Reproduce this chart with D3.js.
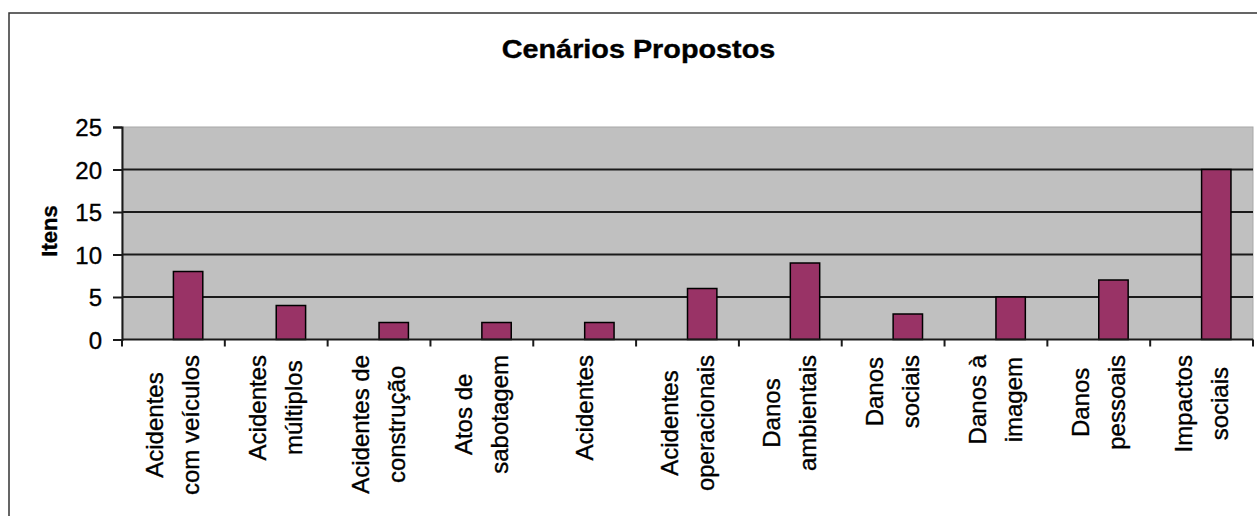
<!DOCTYPE html>
<html>
<head>
<meta charset="utf-8">
<script src="https://cdn.jsdelivr.net/npm/d3@7"></script>
<style>
	body { margin: 0; background: #fff; }
	text { font-family: "Liberation Sans", Arial, sans-serif; fill: #000; stroke: #000; stroke-width: 0.35px; }
</style>
</head>
<body>
<div id="chart"></div>
<script>
// DATA
var categories = [
	["Acidentes", "com veículos"],
	["Acidentes", "múltiplos"],
	["Acidentes de", "construção"],
	["Atos de", "sabotagem"],
	["Acidentes"],
	["Acidentes", "operacionais"],
	["Danos", "ambientais"],
	["Danos", "sociais"],
	["Danos à", "imagem"],
	["Danos", "pessoais"],
	["Impactos", "sociais"]
];
var itens = [8, 4, 2, 2, 2, 6, 9, 3, 5, 7, 20];
var yTicks = [0, 5, 10, 15, 20, 25];
var chartTitle = "Cenários Propostos";
var yTitle = "Itens";

var W = 1257, H = 516;

function drawChart(){
	var svg = d3.select("#chart").append("svg")
		.attr("width", W)
		.attr("height", H);

	// chart frame (right and bottom edges fall outside the picture)
	svg.append("rect")
		.attr("x", 9).attr("y", 13)
		.attr("width", W + 20).attr("height", H + 20)
		.attr("fill", "#fff")
		.attr("stroke", "#333")
		.attr("stroke-width", 1.5);

	var plot = {left: 122, right: 1253, top: 127, bottom: 339.5};

	var x = d3.scaleBand()
		.domain(d3.range(categories.length))
		.range([plot.left, plot.right])
		.padding(0);

	var y = d3.scaleLinear()
		.domain([0, 25])
		.range([plot.bottom, plot.top]);

	// plot area
	svg.append("rect")
		.attr("x", plot.left).attr("y", plot.top)
		.attr("width", plot.right - plot.left)
		.attr("height", plot.bottom - plot.top)
		.attr("fill", "#c0c0c0")
		.attr("stroke", "#a8a8a8")
		.attr("stroke-width", 1);

	// gridlines
	svg.selectAll(".grid")
		.data(yTicks.filter(function(d){ return d > 0 && d < 25; }))
		.enter().append("line")
			.attr("class", "grid")
			.attr("x1", plot.left).attr("x2", plot.right)
			.attr("y1", function(d){ return y(d); })
			.attr("y2", function(d){ return y(d); })
			.attr("stroke", "#1a1a1a")
			.attr("stroke-width", 2);

	// bars sit in the second slot of each group (gap width 150%)
	var bw = x.bandwidth() / 3.5;
	svg.selectAll(".bar")
		.data(itens)
		.enter().append("rect")
			.attr("class", "bar")
			.attr("x", function(d, i){ return x(i) + x.bandwidth() / 2; })
			.attr("y", function(d){ return y(d); })
			.attr("width", bw)
			.attr("height", function(d){ return y(0) - y(d); })
			.attr("fill", "#993366")
			.attr("stroke", "#000")
			.attr("stroke-width", 1.5);

	// y axis
	var yAxis = d3.axisLeft(y)
		.tickValues(yTicks)
		.tickSize(9)
		.tickPadding(11)
		.tickFormat(d3.format("d"));
	var gy = svg.append("g")
		.attr("transform", "translate(" + plot.left + ",0)")
		.call(yAxis);
	gy.select(".domain").attr("stroke", "#1a1a1a").attr("stroke-width", 2);
	gy.selectAll(".tick line").attr("stroke", "#1a1a1a").attr("stroke-width", 2);
	gy.selectAll(".tick text")
		.style("font-size", "24px")
		.attr("dy", "0.36em")
		.attr("fill", "#000");

	// x axis: ticks at category boundaries
	var bounds = d3.range(categories.length + 1).map(function(i){
		return i < categories.length ? x(i) : plot.right;
	});
	svg.append("line")
		.attr("x1", plot.left).attr("x2", plot.right)
		.attr("y1", plot.bottom).attr("y2", plot.bottom)
		.attr("stroke", "#1a1a1a").attr("stroke-width", 2);
	svg.selectAll(".xtick")
		.data(bounds)
		.enter().append("line")
			.attr("class", "xtick")
			.attr("x1", function(d){ return d; })
			.attr("x2", function(d){ return d; })
			.attr("y1", plot.bottom)
			.attr("y2", plot.bottom + 7)
			.attr("stroke", "#1a1a1a")
			.attr("stroke-width", 2);

	// category labels, rotated, lines centred inside a block hanging from the axis
	var labelTop = 355, lineGap = 36;
	categories.forEach(function(lines, i){
		var cx = x(i) + x.bandwidth() / 2;
		var g = svg.append("g");
		var texts = lines.map(function(t, j){
			var base = cx + (j - (lines.length - 1) / 2) * lineGap + 8;
			return g.append("text")
				.attr("text-anchor", "middle")
				.style("font-size", "24px")
				.attr("data-base", base)
				.text(t);
		});
		var maxLen = d3.max(texts, function(t){ return t.node().getComputedTextLength(); });
		var cy = labelTop + maxLen / 2;
		texts.forEach(function(t){
			var base = +t.attr("data-base");
			t.attr("transform", "translate(" + base + "," + cy + ") rotate(-90)");
		});
	});

	// y axis title
	svg.append("text")
		.attr("transform", "translate(57,231) rotate(-90)")
		.attr("text-anchor", "middle")
		.style("font-size", "22px")
		.style("font-weight", "bold")
		.text(yTitle);

	// chart title
	svg.append("text")
		.attr("transform", "translate(638.5,58) scale(1.2,1.05)")
		.attr("text-anchor", "middle")
		.style("font-size", "24px")
		.style("font-weight", "bold")
		.text(chartTitle);
}

///EXECUTE
drawChart();
</script>
</body>
</html>
